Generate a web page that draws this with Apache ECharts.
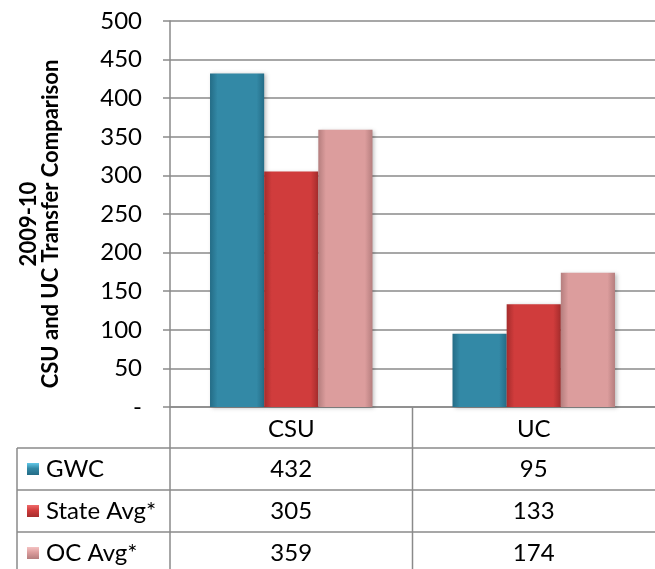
<!DOCTYPE html>
<html>
<head>
<meta charset="utf-8">
<script src="https://cdn.jsdelivr.net/npm/echarts@6/dist/echarts.min.js"></script>
<style>
  html, body { margin: 0; padding: 0; background: #fff; }
  #chart { width: 655px; height: 569px; }
</style>
</head>
<body>
<div id="chart"></div>
<script>
  const categories = ['CSU', 'UC'];
  const seriesNames = ['GWC', 'State Avg*', 'OC Avg*'];
  const gwc = [432, 95];
  const stateAvg = [305, 133];
  const ocAvg = [359, 174];
  const yTitle = '2009-10\nCSU and UC Transfer Comparison';

  // plot area in pixels (the table sits under it)
  const G = { left: 170, top: 21, right: 0, bottom: 162 };
  const W = 655, H = 569;
  const axisY = H - G.bottom;
  const headerBottom = 448;
  const rowH = 42;
  const fontFamily = 'Lato, "Open Sans", sans-serif';
  const fontSize = 24;
  const lineColor = '#8a8a8a';

  const palette = [
    { edge: '#246c86', main: '#3389a6', top: '#62c8e8' },
    { edge: '#a52c2c', main: '#d03c3c', top: '#ef6a6a' },
    { edge: '#b57e7e', main: '#dc9d9d', top: '#f4c2c2' }
  ];

  function barColor(p) {
    return new echarts.graphic.LinearGradient(0, 0, 1, 0, [
      { offset: 0, color: p.edge },
      { offset: 0.14, color: p.main },
      { offset: 0.86, color: p.main },
      { offset: 1, color: p.edge }
    ]);
  }

  const allData = [gwc, stateAvg, ocAvg];

  const chart = echarts.init(document.getElementById('chart'));

  // data table drawn under the plot
  const graphics = [];
  const plotW = W - G.left - G.right;
  const catW = plotW / categories.length;
  function hline(x1, x2, y) {
    graphics.push({ type: 'line', shape: { x1: x1, y1: y, x2: x2, y2: y },
      style: { stroke: lineColor, lineWidth: 1.5 } });
  }
  function vline(x, y1, y2) {
    graphics.push({ type: 'line', shape: { x1: x, y1: y1, x2: x, y2: y2 },
      style: { stroke: lineColor, lineWidth: 1.5 } });
  }
  vline(G.left, axisY, H);
  for (let c = 1; c < categories.length; c++) vline(G.left + catW * c, axisY, H);
  vline(17, headerBottom, H);
  for (let r = 0; r < seriesNames.length; r++) {
    const y0 = headerBottom + r * rowH;
    hline(17, W, y0);
    const cy = y0 + rowH / 2;
    const p = palette[r];
    graphics.push({ type: 'rect', shape: { x: 27, y: cy - 6, width: 12, height: 12 },
      style: { fill: new echarts.graphic.LinearGradient(0, 0, 0, 1, [
        { offset: 0, color: p.top }, { offset: 0.45, color: p.main }, { offset: 1, color: p.edge }]) } });
    graphics.push({ type: 'text', x: 46, y: cy,
      style: { text: seriesNames[r], font: fontSize + 'px ' + fontFamily, fill: '#000',
        textAlign: 'left', textVerticalAlign: 'middle' } });
    for (let c = 0; c < categories.length; c++) {
      graphics.push({ type: 'text', x: G.left + catW * (c + 0.5), y: cy,
        style: { text: String(allData[r][c]), font: fontSize + 'px ' + fontFamily, fill: '#000',
          textAlign: 'center', textVerticalAlign: 'middle' } });
    }
  }

  const option = {
    animation: false,
    backgroundColor: '#fff',
    grid: { left: G.left, top: G.top, right: G.right, bottom: G.bottom },
    xAxis: {
      type: 'category',
      data: categories,
      axisLine: { show: true, lineStyle: { color: lineColor, width: 1.5 } },
      axisTick: { show: false },
      axisLabel: { color: '#000', fontSize: fontSize, fontFamily: fontFamily, margin: 10 }
    },
    yAxis: {
      type: 'value',
      min: 0,
      max: 500,
      interval: 50,
      name: yTitle,
      nameLocation: 'middle',
      nameRotate: 90,
      nameGap: 108,
      nameTextStyle: { color: '#000', fontSize: 22, fontWeight: 'bold', fontFamily: fontFamily,
        lineHeight: 22, padding: [0, 20, 0, 0] },
      axisLine: { show: true, lineStyle: { color: lineColor, width: 1.5 } },
      axisTick: { show: true, length: 7, lineStyle: { color: lineColor, width: 1.5 } },
      axisLabel: {
        color: '#000', fontSize: fontSize, fontFamily: fontFamily, margin: 28,
        formatter: function (v) { return v === 0 ? '-' : String(v); }
      },
      splitLine: { show: true, lineStyle: { color: lineColor, width: 1.5 } }
    },
    series: seriesNames.map(function (name, i) {
      return {
        name: name,
        type: 'bar',
        data: allData[i],
        barGap: '0%',
        barCategoryGap: '33%',
        itemStyle: {
          color: barColor(palette[i]),
          shadowColor: 'rgba(0,0,0,0.25)',
          shadowBlur: 4,
          shadowOffsetX: 2,
          shadowOffsetY: 1
        }
      };
    }),
    graphic: graphics
  };

  chart.setOption(option);
</script>
</body>
</html>
